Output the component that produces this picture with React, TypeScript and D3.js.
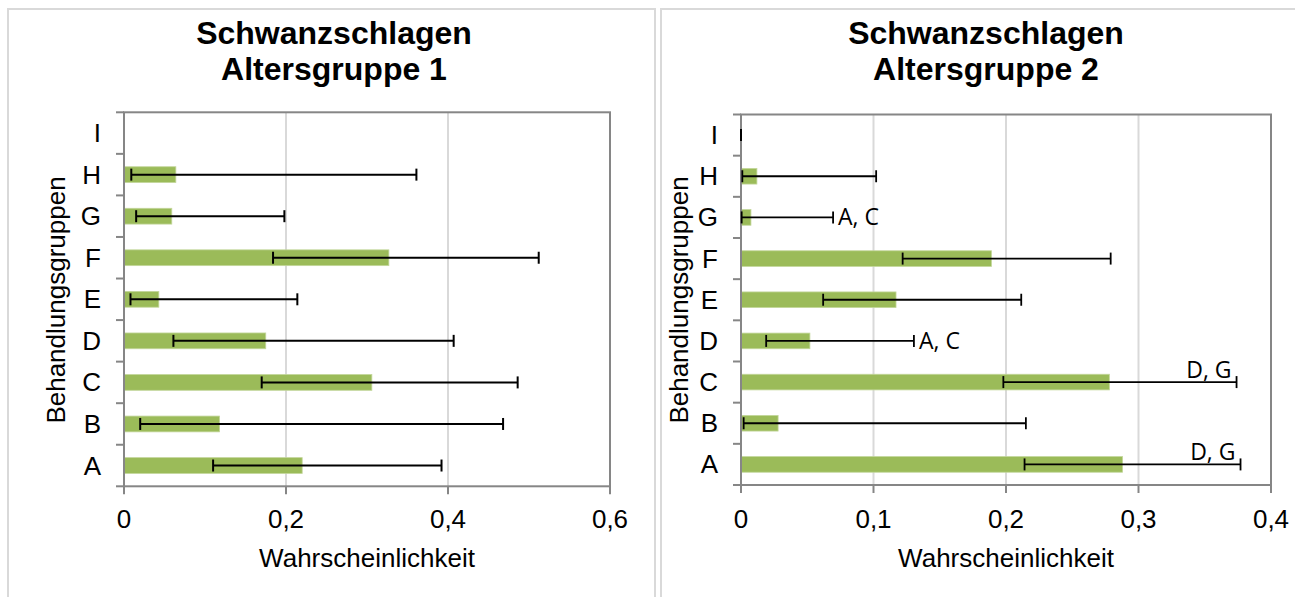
import React from "react";
import * as d3 from "d3";

const categories = ["A", "B", "C", "D", "E", "F", "G", "H", "I"];

const values1: (number | null)[] = [0.22, 0.118, 0.306, 0.175, 0.043, 0.327, 0.059, 0.064, null];
const errLow1: (number | null)[] = [0.11, 0.02, 0.17, 0.061, 0.008, 0.184, 0.015, 0.009, null];
const errHigh1: (number | null)[] = [0.392, 0.468, 0.486, 0.407, 0.214, 0.512, 0.198, 0.361, null];
const labels1 = ["", "", "", "", "", "", "", "", ""];

const values2: (number | null)[] = [0.288, 0.028, 0.278, 0.052, 0.117, 0.189, 0.0075, 0.012, 0];
const errLow2: (number | null)[] = [0.214, 0.002, 0.198, 0.019, 0.062, 0.122, 0.0005, 0.001, 0];
const errHigh2: (number | null)[] = [0.377, 0.215, 0.374, 0.1305, 0.2115, 0.279, 0.0695, 0.102, 0];
const labels2 = ["D, G", "", "D, G", "A, C", "", "", "A, C", "", ""];

const xTicks1 = [0, 0.2, 0.4, 0.6];
const xTicks2 = [0, 0.1, 0.2, 0.3, 0.4];

const title1 = ["Schwanzschlagen", "Altersgruppe 1"];
const title2 = ["Schwanzschlagen", "Altersgruppe 2"];
const xTitle = "Wahrscheinlichkeit";
const yTitle = "Behandlungsgruppen";

const AX = "#868686";
const GRID = "#d9d9d9";
const BAR = "#9bbb59";
const FONT = "'Liberation Sans', Arial, sans-serif";
const ANNOT_FONT = "'Open Sans', 'Noto Sans', sans-serif";

type PanelProps = {
  plot: { l: number; r: number; t: number; b: number };
  values: (number | null)[];
  lo: (number | null)[];
  hi: (number | null)[];
  labels: string[];
  ticks: number[];
  title: string[];
  titleX: number;
  yTitleX: number;
  errWidth: number;
};

const fmt = (v: number) => (v === 0 ? "0" : String(+v.toFixed(2)).replace(".", ","));

function Panel({ plot, values, lo, hi, labels, ticks, title, titleX, yTitleX, errWidth }: PanelProps) {
  const x = d3.scaleLinear().domain([0, ticks[ticks.length - 1]]).range([plot.l, plot.r]);
  const y = d3.scaleBand<string>().domain([...categories].reverse()).range([plot.t, plot.b]);
  const bw = y.bandwidth();
  const barH = bw * 0.38;
  const cx = (plot.l + plot.r) / 2;
  const boundaries = d3.range(categories.length + 1).map((i) => plot.t + i * bw);
  return (
    <g>
      <text x={titleX} y={44} textAnchor="middle" fontFamily={FONT} fontWeight="bold" fontSize={32} fill="#000">
        {title[0]}
      </text>
      <text x={titleX} y={80} textAnchor="middle" fontFamily={FONT} fontWeight="bold" fontSize={32} fill="#000">
        {title[1]}
      </text>
      {ticks.slice(1, -1).map((t) => (
        <line key={"g" + t} x1={x(t)} x2={x(t)} y1={plot.t} y2={plot.b} stroke={GRID} strokeWidth={2} />
      ))}
      {categories.map((c, i) => {
        const v = values[i];
        if (v == null) return null;
        const yc = (y(c) as number) + bw / 2;
        return (
          <rect key={"b" + c} x={x(0)} y={yc - barH / 2} width={x(v) - x(0)} height={barH} fill={BAR} stroke="#c3d69b" strokeWidth={0.8} />
        );
      })}
      <rect x={plot.l} y={plot.t} width={plot.r - plot.l} height={plot.b - plot.t} fill="none" stroke={AX} strokeWidth={2} />
      {boundaries.map((b, i) => (
        <line key={"yt" + i} x1={plot.l - 8} x2={plot.l} y1={b} y2={b} stroke={AX} strokeWidth={2} />
      ))}
      {ticks.map((t) => (
        <g key={"xt" + t}>
          <line x1={x(t)} x2={x(t)} y1={plot.b} y2={plot.b + 8} stroke={AX} strokeWidth={2} />
          <text x={x(t)} y={527.5} textAnchor="middle" fontFamily={FONT} fontSize={26} fill="#000">
            {fmt(t)}
          </text>
        </g>
      ))}
      {categories.map((c, i) => {
        const l = lo[i];
        const h = hi[i];
        if (l == null || h == null) return null;
        const yc = (y(c) as number) + bw / 2;
        return (
          <g key={"e" + c} stroke="#000" strokeWidth={errWidth}>
            <line x1={x(l)} x2={x(h)} y1={yc} y2={yc} />
            <line x1={x(l)} x2={x(l)} y1={yc - 6} y2={yc + 6} />
            <line x1={x(h)} x2={x(h)} y1={yc - 6} y2={yc + 6} />
          </g>
        );
      })}
      {categories.map((c, i) => {
        const lab = labels[i];
        const h = hi[i];
        if (!lab || h == null) return null;
        const yc = (y(c) as number) + bw / 2;
        const capX = x(h);
        const above = capX + 50 > plot.r;
        return above ? (
          <text key={"a" + c} x={capX - 5} y={yc - 4} textAnchor="end" fontFamily={ANNOT_FONT} fontSize={23} fill="#000">
            {lab}
          </text>
        ) : (
          <text key={"a" + c} x={capX + 5} y={yc + 8} textAnchor="start" fontFamily={ANNOT_FONT} fontSize={23} fill="#000">
            {lab}
          </text>
        );
      })}
      {categories.map((c) => (
        <text key={"yl" + c} x={plot.l - 23} y={(y(c) as number) + bw / 2 + 9} textAnchor="end" fontFamily={FONT} fontSize={26} fill="#000">
          {c}
        </text>
      ))}
      <text x={cx} y={567} textAnchor="middle" fontFamily={FONT} fontSize={26} fill="#000">
        {xTitle}
      </text>
      <text transform={`translate(${yTitleX},300) rotate(-90)`} textAnchor="middle" fontFamily={FONT} fontSize={26} fill="#000">
        {yTitle}
      </text>
    </g>
  );
}

export default function App() {
  return (
    <svg width={1295} height={597} style={{ position: "absolute", left: 0, top: 0, background: "#fff" }}>
      <rect x={0} y={0} width={1295} height={597} fill="#fff" />
      <rect x={8} y={9} width={647} height={600} fill="none" stroke={GRID} strokeWidth={2} />
      <rect x={661} y={9} width={650} height={600} fill="none" stroke={GRID} strokeWidth={2} />
      <Panel
        plot={{ l: 124, r: 610, t: 112.3, b: 486.3 }}
        values={values1}
        lo={errLow1}
        hi={errHigh1}
        labels={labels1}
        ticks={xTicks1}
        title={title1}
        titleX={334}
        yTitleX={65}
        errWidth={2}
      />
      <Panel
        plot={{ l: 741, r: 1271, t: 114.5, b: 485 }}
        values={values2}
        lo={errLow2}
        hi={errHigh2}
        labels={labels2}
        ticks={xTicks2}
        title={title2}
        titleX={986}
        yTitleX={688}
        errWidth={1.8}
      />
    </svg>
  );
}
